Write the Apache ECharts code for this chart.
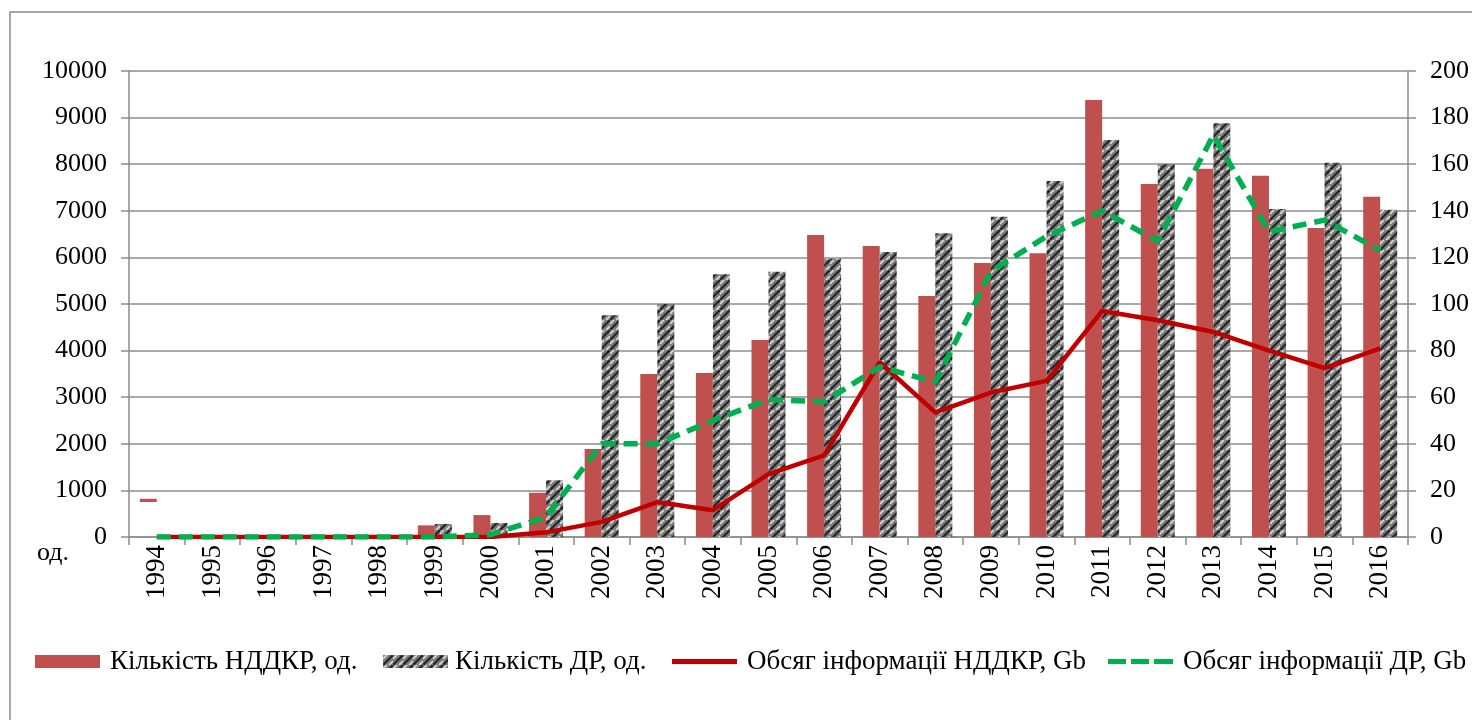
<!DOCTYPE html>
<html><head><meta charset="utf-8">
<script src="https://cdn.jsdelivr.net/npm/echarts@6/dist/echarts.min.js"></script>
<style>html,body{margin:0;padding:0;background:#fff}#c{width:1472px;height:720px}</style>
</head><body><div id="c"></div>
<script>
const years = ['1994','1995','1996','1997','1998','1999','2000','2001','2002','2003','2004','2005','2006','2007','2008','2009','2010','2011','2012','2013','2014','2015','2016'];
const nddkrCount = [820,10,30,10,40,250,470,950,1890,3500,3520,4230,6480,6245,5170,5880,6090,9380,7575,7900,7750,6630,7300];
const drCount = [0,0,0,0,0,280,300,1220,4760,5000,5640,5690,5970,6115,6520,6870,7640,8520,8000,8880,7040,8030,7020];
const nddkrGb = [0,0,0,0,0,0,0,2,6.5,15,11.5,27,35,75,53.5,62,67,97,93,88,80,72.5,81];
const drGb = [0,0,0,0,0,0,1,8.5,40,40,50,59,58,73,66.5,114,129,140,127,172.5,131,136,123];
const leftTicks = {min:0,max:10000,interval:1000};
const rightTicks = {min:0,max:200,interval:20};
const names = ['Кількість НДДКР, од.','Кількість ДР, од.','Обсяг інформації НДДКР, Gb','Обсяг інформації ДР, Gb'];

// grey textured pattern for DR bars
const pc = document.createElement('canvas');
pc.width = 10; pc.height = 10;
const g = pc.getContext('2d');
g.fillStyle = '#7c7c7c'; g.fillRect(0,0,10,10);
g.strokeStyle = '#252525'; g.lineWidth = 2.2;
g.beginPath(); g.moveTo(0,10); g.lineTo(10,0); g.stroke();
g.strokeStyle = '#dcdcdc'; g.lineWidth = 1.6;
g.beginPath(); g.moveTo(0,4); g.lineTo(4,0); g.moveTo(6,10); g.lineTo(10,6); g.stroke();
const pattern = {image: pc, repeat: 'repeat'};

const font = 'Liberation Serif';
const chart = echarts.init(document.getElementById('c'));
const redBar = '#c0504d';
const axisCol = '#8c8c8c';
const legendIcons = ['rect','rect','path://M0,0H65V5H0Z','path://M0,0H18V5H0Z M23,0H41V5H23Z M46,0H65V5H46Z'];
const legendLeft = [35,383,672,1108];
const legendPad = [5,2,5,5];
chart.setOption({
  animation:false,
  textStyle:{fontFamily:font},
  grid:{left:129,right:63,top:71,bottom:183},
  graphic:[
    {type:'rect',shape:{x:10,y:12,width:1500,height:760},style:{fill:'none',stroke:axisCol,lineWidth:1.5},silent:true},
    {type:'text',left:37,top:540,style:{text:'од.',font:'26px "Liberation Serif"',fill:'#000'}}
  ],
  legend:names.map((n,i)=>({
    left:legendLeft[i], top:648, padding:0, itemWidth:65, itemHeight:13,
    textStyle:{fontFamily:font,fontSize:27,color:'#000',padding:[0,0,0,legendPad[i]]},
    data:[{name:n,icon:legendIcons[i]}]
  })),
  xAxis:{
    type:'category', data:years,
    axisLine:{lineStyle:{color:axisCol,width:1.5}},
    axisTick:{show:true,length:8,lineStyle:{color:axisCol,width:1.5}},
    axisLabel:{rotate:90,fontSize:27,color:'#000',fontFamily:font,margin:8}
  },
  yAxis:[
    {type:'value',...leftTicks,position:'left',
     axisLine:{show:true,lineStyle:{color:axisCol,width:1.5}},
     axisTick:{show:true,length:8,lineStyle:{color:axisCol,width:1.5}},
     splitLine:{lineStyle:{color:axisCol,width:1.5}},
     axisLabel:{fontSize:26,color:'#000',fontFamily:font,margin:22,formatter:v=>String(v)}},
    {type:'value',...rightTicks,position:'right',
     axisLine:{show:true,lineStyle:{color:axisCol,width:1.5}},
     axisTick:{show:true,length:8,lineStyle:{color:axisCol,width:1.5}},
     splitLine:{show:false},
     axisLabel:{fontSize:26,color:'#000',fontFamily:font,margin:22,formatter:v=>String(v)}}
  ],
  series:[
    {name:names[0],type:'bar',barWidth:17,barGap:'0%',yAxisIndex:0,
     itemStyle:{color:redBar},
     data:nddkrCount.map((v,i)=> i===0 ? {value:v,itemStyle:{color:new echarts.graphic.LinearGradient(0,0,0,1,[{offset:0,color:redBar},{offset:0.08,color:redBar},{offset:0.08,color:'rgba(0,0,0,0)'},{offset:1,color:'rgba(0,0,0,0)'}])}} : v)},
    {name:names[1],type:'bar',barWidth:17,barGap:'0%',yAxisIndex:0,
     itemStyle:{color:pattern},data:drCount},
    {name:names[2],type:'line',yAxisIndex:1,symbol:'none',z:5,
     lineStyle:{color:'#c00000',width:4.5},itemStyle:{color:'#c00000'},data:nddkrGb},
    {name:names[3],type:'line',yAxisIndex:1,symbol:'none',z:6,
     lineStyle:{color:'#00b050',width:5.5,type:[14,8]},itemStyle:{color:'#00b050'},data:drGb}
  ]
});
</script></body></html>
